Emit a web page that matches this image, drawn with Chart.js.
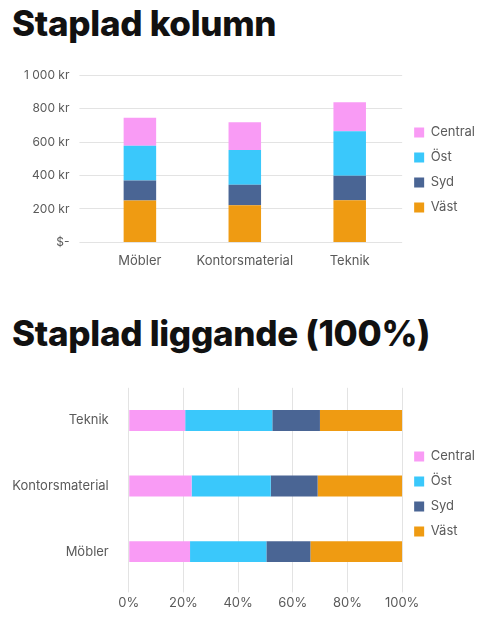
<!DOCTYPE html>
<html>
<head>
<meta charset="utf-8">
<script src="https://cdn.jsdelivr.net/npm/chart.js@4"></script>
<style>
  body { margin: 0; background: #fff; font-family: Inter, sans-serif; }
  h1 { position: absolute; left: 12px; margin: 0; font-size: 35px; font-weight: 800; color: #111; letter-spacing: -0.3px; }
  .box { position: absolute; left: 0; width: 493px; }
</style>
</head>
<body>
<h1 style="top:2px">Staplad kolumn</h1>
<div class="box" style="top:58px;height:214px"><canvas id="c1"></canvas></div>
<h1 style="top:312px">Staplad liggande (100%)</h1>
<div class="box" style="top:368px;height:250px"><canvas id="c2"></canvas></div>
<script>
const categories = ['Möbler', 'Kontorsmaterial', 'Teknik'];
const vast = [250, 222, 252];
const syd = [120, 123, 146];
const ost = [208, 208, 267];
const central = [167, 165, 173];

const colors = { Central: '#f99bf5', 'Öst': '#3ac8fb', Syd: '#4a6594', 'Väst': '#ef9b12' };
const textColor = '#5a5a5a';
Chart.defaults.font.family = 'Inter, sans-serif';
Chart.defaults.color = textColor;

const totals = categories.map((c, i) => vast[i] + syd[i] + ost[i] + central[i]);
const pct = arr => arr.map((v, i) => v / totals[i] * 100);

const legend = (reverse) => ({
  position: 'right',
  reverse: reverse,
  labels: { usePointStyle: true, pointStyle: 'rect', boxWidth: 10, boxHeight: 10, padding: 12, font: { size: 13 } }
});

new Chart(document.getElementById('c1'), {
  type: 'bar',
  data: {
    labels: categories,
    datasets: [
      { label: 'Väst', data: vast, backgroundColor: colors['Väst'] },
      { label: 'Syd', data: syd, backgroundColor: colors.Syd },
      { label: 'Öst', data: ost, backgroundColor: colors['Öst'] },
      { label: 'Central', data: central, backgroundColor: colors.Central }
    ]
  },
  options: {
    responsive: true, maintainAspectRatio: false, animation: false,
    layout: { padding: { left: 14, right: 8, top: 10, bottom: 0 } },
    categoryPercentage: 1, barPercentage: 0.31,
    plugins: { legend: legend(true), tooltip: { enabled: false } },
    scales: {
      x: { stacked: true, grid: { display: false }, border: { display: false }, ticks: { font: { size: 13 } } },
      y: {
        stacked: true, min: 0, max: 1000,
        ticks: { stepSize: 200, padding: 10, font: { size: 12 }, callback: v => v === 0 ? '$-' : (v >= 1000 ? '1 000' : v) + ' kr' },
        grid: { color: '#e3e3e3' }, border: { display: false }
      }
    }
  }
});

new Chart(document.getElementById('c2'), {
  type: 'bar',
  data: {
    labels: categories,
    datasets: [
      { label: 'Central', data: pct(central), backgroundColor: colors.Central },
      { label: 'Öst', data: pct(ost), backgroundColor: colors['Öst'] },
      { label: 'Syd', data: pct(syd), backgroundColor: colors.Syd },
      { label: 'Väst', data: pct(vast), backgroundColor: colors['Väst'] }
    ]
  },
  options: {
    indexAxis: 'y',
    responsive: true, maintainAspectRatio: false, animation: false,
    layout: { padding: { left: 10, right: 8, top: 6, bottom: 4 } },
    categoryPercentage: 1, barPercentage: 0.32,
    plugins: { legend: legend(false), tooltip: { enabled: false } },
    scales: {
      y: { stacked: true, reverse: true, grid: { display: false }, border: { display: false }, ticks: { padding: 12, font: { size: 13 } } },
      x: {
        stacked: true, min: 0, max: 100,
        ticks: { stepSize: 20, font: { size: 13 }, callback: v => v + '%' },
        grid: { color: '#e3e3e3' }, border: { display: false }
      }
    }
  }
});
</script>
</body>
</html>
